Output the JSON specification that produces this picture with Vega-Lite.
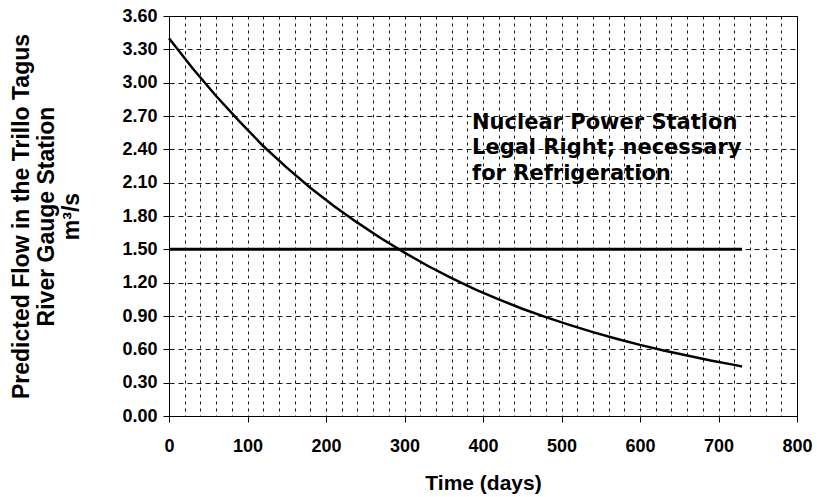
{
  "$schema": "https://vega.github.io/schema/vega-lite/v6.json",
  "width": 628,
  "height": 400,
  "autosize": {"type": "none"},
  "padding": {"left": 169, "top": 16, "right": 20, "bottom": 81},
  "background": "white",
  "config": {
    "view": {"stroke": "black", "strokeWidth": 1},
    "axis": {
      "domainColor": "black",
      "tickColor": "black",
      "gridColor": "black",
      "gridOpacity": 0.9,
      "labelFont": "Liberation Sans, Arial, sans-serif",
      "labelFontWeight": "bold",
      "labelFontSize": 18,
      "labelColor": "black",
      "labelOverlap": false,
      "titleFont": "Liberation Sans, Arial, sans-serif",
      "titleFontWeight": "bold",
      "titleColor": "black"
    }
  },
  "datasets": {
    "flow": [
      {"t": 0, "q": 3.40}, {"t": 30, "q": 3.13}, {"t": 60, "q": 2.88}, {"t": 90, "q": 2.65},
      {"t": 120, "q": 2.43}, {"t": 150, "q": 2.235}, {"t": 180, "q": 2.055}, {"t": 210, "q": 1.89},
      {"t": 240, "q": 1.74}, {"t": 270, "q": 1.60}, {"t": 300, "q": 1.47}, {"t": 330, "q": 1.35},
      {"t": 360, "q": 1.24}, {"t": 390, "q": 1.14}, {"t": 420, "q": 1.05}, {"t": 450, "q": 0.965},
      {"t": 480, "q": 0.89}, {"t": 510, "q": 0.82}, {"t": 540, "q": 0.755}, {"t": 570, "q": 0.695},
      {"t": 600, "q": 0.64}, {"t": 630, "q": 0.59}, {"t": 660, "q": 0.545}, {"t": 690, "q": 0.50},
      {"t": 720, "q": 0.46}, {"t": 730, "q": 0.445}
    ],
    "legal": [{"t": 0, "q": 1.5}, {"t": 730, "q": 1.5}],
    "note": [
      {"t": 386, "q": 2.64, "label": "Nuclear Power Station"},
      {"t": 386, "q": 2.41, "label": "Legal Right; necessary"},
      {"t": 386, "q": 2.18, "label": "for Refrigeration"}
    ]
  },
  "encoding": {
    "x": {
      "field": "t", "type": "quantitative",
      "scale": {"domain": [0, 800], "nice": false},
      "axis": {
        "title": "Time (days)",
        "titleFontSize": 21,
        "titlePadding": 17,
        "values": [0,20,40,60,80,100,120,140,160,180,200,220,240,260,280,300,320,340,360,380,400,420,440,460,480,500,520,540,560,580,600,620,640,660,680,700,720,740,760,780,800],
        "labelExpr": "datum.value % 100 === 0 ? datum.label : ''",
        "tickOpacity": {"condition": {"test": "datum.value % 100 === 0", "value": 1}, "value": 0},
        "tickSize": 6,
        "labelPadding": 15,
        "labelOverlap": false,
        "grid": true,
        "gridDash": [3, 4],
        "labelFlush": false
      }
    },
    "y": {
      "field": "q", "type": "quantitative",
      "scale": {"domain": [0, 3.6], "nice": false},
      "axis": {
        "title": ["Predicted Flow in the Trillo Tagus", "River Gauge Station", "m³/s"],
        "titleFontSize": 23,
        "titleLineHeight": 25,
        "titlePadding": 38,
        "values": [0, 0.3, 0.6, 0.9, 1.2, 1.5, 1.8, 2.1, 2.4, 2.7, 3.0, 3.3, 3.6],
        "format": ".2f",
        "tickSize": 6,
        "labelPadding": 6,
        "labelOverlap": false,
        "grid": true,
        "gridDash": [5, 4]
      }
    }
  },
  "layer": [
    {
      "data": {"name": "flow"},
      "mark": {"type": "line", "color": "black", "strokeWidth": 2.5}
    },
    {
      "data": {"name": "legal"},
      "mark": {"type": "line", "color": "black", "strokeWidth": 3}
    },
    {
      "data": {"name": "note"},
      "mark": {"type": "text", "align": "left", "baseline": "middle", "font": "DejaVu Sans, sans-serif", "fontWeight": "bold", "fontSize": 21, "color": "black"},
      "encoding": {
        "text": {"field": "label"}
      }
    }
  ]
}
